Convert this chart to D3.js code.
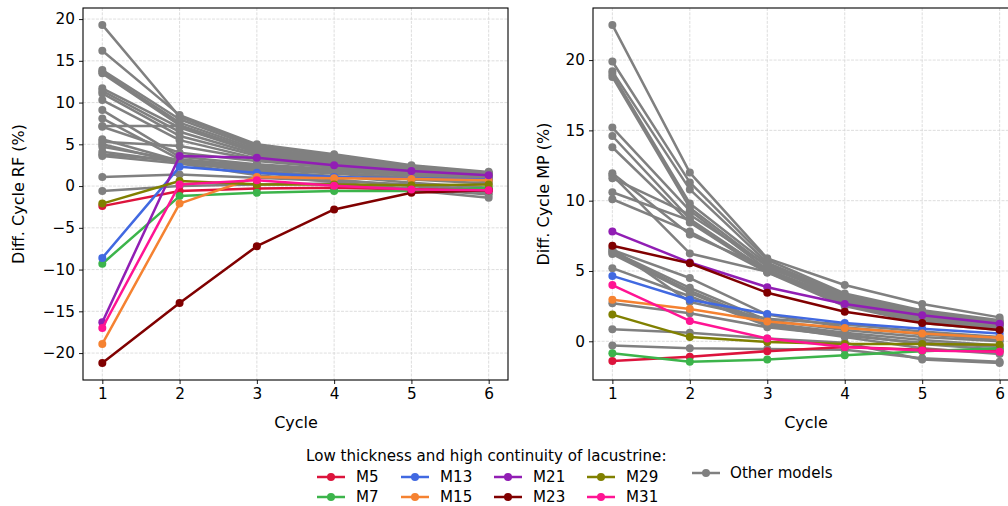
<!DOCTYPE html>
<html><head><meta charset="utf-8">
<script src="https://cdn.jsdelivr.net/npm/d3@7"></script>
<style>body{margin:0;background:#fff}svg{display:block}text{font-family:"DejaVu Sans",sans-serif;fill:#000}</style>
</head><body><svg id="c" width="1008" height="506"></svg>
<script>
const cycles = [1,2,3,4,5,6];
const highlightNames = ["M5","M7","M13","M15","M21","M23","M29","M31"];
const highlightColors = ["#DC143C","#3cb44b","#4169E1","#F58231","#911eb4","#800000","#808000","#FF1493"];

// Left panel: Diff. Cycle RF (%)
const rfHighlight = [
  [-2.4,-0.6,-0.3,-0.2,-0.4,-0.4],
  [-9.3,-1.2,-0.8,-0.6,-0.6,-0.2],
  [-8.6,2.3,1.6,1.1,0.9,0.8],
  [-18.9,-2.1,1.1,0.95,0.85,0.7],
  [-16.3,3.6,3.4,2.5,1.8,1.3],
  [-21.2,-14.0,-7.2,-2.8,-0.8,-0.5],
  [-2.1,0.6,0.2,0.2,0.1,0.2],
  [-17.0,0.2,0.7,0.05,-0.4,-0.5]
];
const rfOthers = [
  [19.3,8.3,4.8,3.6,2.4,1.6],
  [16.2,8.5,5.0,3.8,2.5,1.7],
  [13.9,8.0,4.6,3.4,2.3,1.5],
  [13.7,7.6,4.4,3.2,2.2,1.5],
  [13.5,7.3,4.2,3.0,2.0,1.4],
  [11.7,7.0,4.0,2.9,2.0,1.3],
  [11.4,6.5,3.8,2.7,1.9,1.3],
  [11.1,6.0,3.6,2.6,1.8,1.2],
  [10.3,5.5,3.3,2.4,1.7,1.2],
  [9.1,3.5,2.6,2.0,1.4,1.0],
  [8.1,3.2,2.4,1.8,1.3,0.9],
  [7.2,7.2,4.2,3.1,2.1,1.4],
  [7.1,4.0,3.0,2.2,1.6,1.1],
  [5.6,3.0,2.2,1.6,1.0,0.6],
  [5.3,4.8,3.2,2.4,1.6,1.0],
  [5.0,2.8,2.0,1.5,0.8,0.3],
  [4.7,3.1,2.5,1.9,1.2,0.8],
  [4.1,2.9,1.8,1.2,0.4,-0.2],
  [3.8,3.0,1.6,0.8,0.0,-0.8],
  [3.6,2.7,1.3,0.5,-0.5,-1.4],
  [1.1,1.4,1.0,0.6,0.2,-0.5],
  [-0.6,0.0,0.2,0.3,-0.3,-1.0]
];

// Right panel: Diff. Cycle MP (%)
const mpHighlight = [
  [-1.4,-1.1,-0.7,-0.4,-0.6,-0.7],
  [-0.85,-1.45,-1.3,-1.0,-0.7,-0.5],
  [4.65,2.95,1.95,1.3,0.9,0.55],
  [2.95,2.3,1.4,0.95,0.55,0.25],
  [7.8,5.6,3.85,2.65,1.85,1.25],
  [6.8,5.55,3.45,2.1,1.3,0.8],
  [1.9,0.3,-0.05,-0.2,-0.2,-0.25],
  [4.0,1.45,0.2,-0.4,-0.65,-0.75]
];
const mpOthers = [
  [22.5,12.0,5.9,4.0,2.65,1.7],
  [19.9,11.3,5.8,3.4,2.2,1.5],
  [19.2,10.8,5.6,3.3,2.1,1.4],
  [19.0,9.8,5.5,3.2,2.0,1.35],
  [18.8,9.5,5.3,3.1,1.9,1.3],
  [15.2,9.3,5.1,3.0,1.8,1.2],
  [14.6,8.7,5.0,2.9,1.7,1.15],
  [13.8,8.45,4.9,2.8,1.6,1.1],
  [11.95,7.6,5.2,3.3,2.0,1.2],
  [11.8,6.25,4.95,2.7,1.5,1.0],
  [11.6,9.0,5.4,3.0,1.8,1.2],
  [10.6,8.6,5.0,2.6,1.4,0.9],
  [10.1,7.8,4.9,2.5,1.3,0.8],
  [6.5,4.5,1.9,1.0,0.5,0.1],
  [6.4,3.8,1.5,0.8,0.3,0.0],
  [6.2,3.45,1.2,0.5,-0.2,-0.6],
  [5.2,3.2,1.1,0.3,-0.5,-0.9],
  [2.7,2.0,1.0,0.4,-0.1,-0.4],
  [0.86,0.6,0.2,-0.1,-1.3,-1.55],
  [-0.3,-0.5,-0.55,-0.6,-1.2,-1.45],
  [6.3,3.6,1.3,0.6,0.1,-0.3],
  [6.6,2.8,1.6,1.2,0.7,0.3]
];
const rfTicks = [-20,-15,-10,-5,0,5,10,15,20];
const mpTicks = [0,5,10,15,20];
const xTicks = [1,2,3,4,5,6];
const otherColor = "#808080";
const legendTitle = "Low thickness and high continuity of lacustrine:";
const otherLabel = "Other models";

const FS = 15.3, LBS = 16, LFS = 15.1, LW = 2.5, MR = 4;
const svg = d3.select("#c");

function panel(cfg){
  const {x0,x1,y0,y1,hi,others,yTicks,ylabel,ylabelX,xlabelX} = cfg;
  const all = hi.concat(others).flat();
  const mn = d3.min(all), mx = d3.max(all), pad = (mx-mn)*0.05;
  const x = d3.scaleLinear().domain([0.75,6.25]).range([x0,x1]);
  const y = d3.scaleLinear().domain([mn-pad, mx+pad]).range([y1,y0]);
  const g = svg.append("g");
  const clipId = "clip"+x0;
  svg.append("clipPath").attr("id",clipId).append("rect").attr("x",x0).attr("y",y0).attr("width",x1-x0).attr("height",y1-y0);
  const grid = g.append("g").attr("stroke","#d6d6d6").attr("stroke-width",0.8).attr("stroke-dasharray","3,1.3");
  xTicks.forEach(t=>grid.append("line").attr("x1",x(t)).attr("x2",x(t)).attr("y1",y0).attr("y2",y1));
  yTicks.forEach(t=>grid.append("line").attr("x1",x0).attr("x2",x1).attr("y1",y(t)).attr("y2",y(t)));
  const plot = g.append("g").attr("clip-path",`url(#${clipId})`);
  const line = d3.line().x((d,i)=>x(cycles[i])).y(d=>y(d));
  function series(vals,color){
    plot.append("path").datum(vals).attr("d",line).attr("fill","none").attr("stroke",color).attr("stroke-width",LW).attr("stroke-linejoin","round");
    plot.append("g").selectAll("circle").data(vals).join("circle").attr("cx",(d,i)=>x(cycles[i])).attr("cy",d=>y(d)).attr("r",MR).attr("fill",color);
  }
  others.forEach(v=>series(v,otherColor));
  hi.forEach((v,i)=>series(v,highlightColors[i]));
  const ax = g.append("g").attr("transform",`translate(0,${y1})`).call(d3.axisBottom(x).tickValues(xTicks).tickSize(4).tickPadding(4).tickFormat(d3.format("d")));
  const ay = g.append("g").attr("transform",`translate(${x0},0)`).call(d3.axisLeft(y).tickValues(yTicks).tickSize(4).tickPadding(4).tickFormat(d=>d<0?"\u2212"+Math.abs(d):d));
  [ax,ay].forEach(a=>{a.select(".domain").remove();a.selectAll("text").attr("font-size",FS).attr("font-family","DejaVu Sans");a.selectAll("line").attr("stroke","#000").attr("stroke-width",0.9);});
  g.append("rect").attr("x",x0).attr("y",y0).attr("width",x1-x0).attr("height",y1-y0).attr("fill","none").attr("stroke","#000").attr("stroke-width",1.1);
  g.append("text").attr("x",xlabelX).attr("y",428).attr("text-anchor","middle").attr("font-size",LBS).text("Cycle");
  g.append("text").attr("transform",`translate(${ylabelX},${(y0+y1)/2}) rotate(-90)`).attr("text-anchor","middle").attr("font-size",LBS).text(ylabel);
}
panel({x0:83,x1:508,y0:8,y1:380,hi:rfHighlight,others:rfOthers,yTicks:rfTicks,ylabel:"Diff. Cycle RF (%)",ylabelX:24,xlabelX:296});
panel({x0:593,x1:1019,y0:8,y1:380,hi:mpHighlight,others:mpOthers,yTicks:mpTicks,ylabel:"Diff. Cycle MP (%)",ylabelX:549,xlabelX:806});

const lg = svg.append("g");
lg.append("text").attr("x",306).attr("y",461).attr("font-size",LFS).text(legendTitle);
const colX = [317,401,494,587];
highlightNames.forEach((n,i)=>{
  const cx = colX[Math.floor(i/2)], cy = i%2===0?477:497;
  lg.append("line").attr("x1",cx).attr("x2",cx+28).attr("y1",cy).attr("y2",cy).attr("stroke",highlightColors[i]).attr("stroke-width",LW);
  lg.append("circle").attr("cx",cx+14).attr("cy",cy).attr("r",MR).attr("fill",highlightColors[i]);
  lg.append("text").attr("x",cx+39).attr("y",cy+5.3).attr("font-size",LFS).text(n);
});
lg.append("line").attr("x1",692).attr("x2",720).attr("y1",473).attr("y2",473).attr("stroke",otherColor).attr("stroke-width",LW);
lg.append("circle").attr("cx",706).attr("cy",473).attr("r",MR).attr("fill",otherColor);
lg.append("text").attr("x",730).attr("y",478.3).attr("font-size",LFS).text(otherLabel);
</script></body></html>
